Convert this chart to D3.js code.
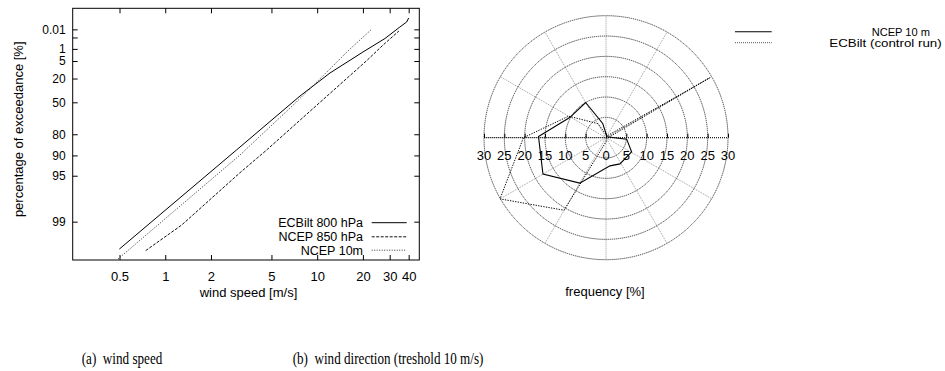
<!DOCTYPE html>
<html><head><meta charset="utf-8">
<script src="https://cdn.jsdelivr.net/npm/d3@7"></script>
<style>body{margin:0;background:#fff} svg{display:block}</style>
</head><body>
<svg id="c" width="945" height="371"></svg>
<script>
// ---------- (a) wind speed: exceedance on Weibull paper ----------
const speedTicks = [0.5, 1, 2, 5, 10, 20, 30, 40];
const exceedTicks = [0.01, 0.1, 1, 5, 20, 50, 80, 90, 95, 99];
const exceedLabels = ["0.01", "", "1", "5", "20", "50", "80", "90", "95", "99"];
const ecbiltSpeed  = [0.499, 2.945, 7.71, 12.14, 20.01, 27.93, 35.0, 38.8, 40.0];
const ecbiltExceed = [99.62, 88.0, 42.04, 14.10, 1.617, 0.1286, 0.0045, 0.000645, 0.000105];
const ncep850Speed  = [0.744, 1.284, 3.105, 4.65, 21.4, 26.7, 34.5];
const ncep850Exceed = [99.64, 99.11, 94.45, 88.0, 4.48, 0.609, 0.0168];
const ncep10Speed  = [0.491, 3.105, 6.96, 10.17, 15.94, 22.8];
const ncep10Exceed = [99.73, 89.85, 53.3, 22.3, 1.39, 0.00984];
const speedSeries = ["ECBilt 800 hPa", "NCEP 850 hPa", "NCEP 10m"];

// ---------- (b) wind direction ----------
const freqTicks = [-30, -25, -20, -15, -10, -5, 0, 5, 10, 15, 20, 25, 30];
const ncepDir  = [330, 347, 0, 45, 94, 119, 152, 172, 210, 240, 271, 299];
const ncepFreq = [10.0, 3.6, 1.0, 0.3, 5.1, 7.2, 7.3, 7.0, 12.9, 17.9, 16.6, 10.2];
const ecbiltDir  = [0, 30, 60, 90, 120, 150, 180, 210, 240, 270, 300, 330];
const ecbiltFreq = [0.8, 0.5, 29.5, 0.5, 0.3, 0.3, 1.0, 20.6, 30.1, 20.3, 10.6, 4.0];
const dirSeries = ["NCEP 10 m", "ECBilt (control run)"];

const svg = d3.select("#c");
const SANS = "'Liberation Sans', Arial, Helvetica, sans-serif";
const SERIF = "'Liberation Serif', 'Times New Roman', serif";

// ===== Panel (a) =====
const L = {x0: 72.7, x1: 419.3, y0: 8.3, y1: 260};
const wb = p => Math.log(-Math.log(p / 100));
const x = d3.scaleLog().domain([0.246, 47]).range([L.x0, L.x1]);
const yw = d3.scaleLinear().domain([-5.959, 2.967]).range([L.y1, L.y0]);
const y = p => yw(wb(p));

const ga = svg.append("g").attr("font-family", SANS);

const styleAxis = (g, fs) => {
  g.select(".domain").remove();
  g.selectAll(".tick line").attr("stroke", "#000").attr("stroke-width", 1);
  g.selectAll(".tick text").attr("font-size", fs).attr("fill", "#000").attr("font-family", SANS);
};

ga.append("g").attr("transform", `translate(0,${L.y1})`)
  .call(d3.axisBottom(x).tickValues(speedTicks).tickFormat(d3.format("")).tickSize(-5).tickPadding(12))
  .call(styleAxis, 13);
ga.append("g").attr("transform", `translate(0,${L.y0})`)
  .call(d3.axisTop(x).tickValues(speedTicks).tickFormat("").tickSize(-5))
  .call(styleAxis, 13);
ga.append("g").attr("transform", `translate(${L.x0},0)`)
  .call(d3.axisLeft(yw).tickValues(exceedTicks.map(wb)).tickFormat((d, i) => exceedLabels[i]).tickSize(-5).tickPadding(7))
  .call(styleAxis, 12);
ga.append("g").attr("transform", `translate(${L.x1},0)`)
  .call(d3.axisRight(yw).tickValues(exceedTicks.map(wb)).tickFormat("").tickSize(-5))
  .call(styleAxis, 12);

ga.append("rect").attr("x", L.x0).attr("y", L.y0).attr("width", L.x1 - L.x0).attr("height", L.y1 - L.y0)
  .attr("fill", "none").attr("stroke", "#000").attr("stroke-width", 1);

const speedData = [
  {name: speedSeries[0], v: ecbiltSpeed, p: ecbiltExceed, dash: null, color: "#000"},
  {name: speedSeries[1], v: ncep850Speed, p: ncep850Exceed, dash: "3,1.5", color: "#111"},
  {name: speedSeries[2], v: ncep10Speed, p: ncep10Exceed, dash: "1,1.5", color: "#333"}
];
const line = d3.line().x(d => x(d[0])).y(d => y(d[1]));
speedData.forEach(s => {
  ga.append("path").datum(d3.zip(s.v, s.p)).attr("d", line)
    .attr("fill", "none").attr("stroke", s.color).attr("stroke-width", 1)
    .attr("stroke-dasharray", s.dash);
});
const legRows = [222.7, 236.8, 250.2];
speedData.forEach((s, i) => {
  ga.append("text").attr("x", 363).attr("y", legRows[i] + 4.4).attr("text-anchor", "end")
    .attr("font-size", 12.5).text(s.name);
  ga.append("line").attr("x1", 371.7).attr("x2", 406.7).attr("y1", legRows[i]).attr("y2", legRows[i])
    .attr("stroke", s.color).attr("stroke-width", 1).attr("stroke-dasharray", s.dash);
});
ga.append("text").attr("x", 248.5).attr("y", 297).attr("text-anchor", "middle").attr("font-size", 13)
  .text("wind speed [m/s]");
ga.append("text").attr("transform", "translate(22.5,129.3) rotate(-90)").attr("text-anchor", "middle")
  .attr("font-size", 13).text("percentage of exceedance [%]");

// ===== Panel (b) =====
const C = {cx: 606, cy: 137.7};
const r = d3.scaleLinear().domain([0, 30]).range([0, 122]);
const gb = svg.append("g").attr("font-family", SANS).attr("transform", `translate(${C.cx},${C.cy})`);

d3.range(0, 360, 30).forEach(a => {
  const t = a * Math.PI / 180;
  gb.append("line").attr("x1", 0).attr("y1", 0)
    .attr("x2", r(30) * Math.sin(t)).attr("y2", -r(30) * Math.cos(t))
    .attr("stroke", "#9a9a9a").attr("stroke-width", 1).attr("stroke-dasharray", "1,1");
});
[5, 10, 15, 20, 25, 30].forEach(v => {
  gb.append("circle").attr("r", r(v)).attr("fill", "none").attr("stroke", "#3a3a3a")
    .attr("stroke-width", 1).attr("stroke-dasharray", "1.2,0.8");
});
const xf = d3.scaleLinear().domain([-30, 30]).range([-r(30), r(30)]);
gb.append("line").attr("x1", xf(-30)).attr("x2", xf(30)).attr("y1", 0).attr("y2", 0)
  .attr("stroke", "#000").attr("stroke-width", 1).attr("stroke-dasharray", "1,1");
const ax = gb.append("g")
  .call(d3.axisTop(xf).tickValues(freqTicks).tickFormat("").tickSize(4));
ax.select(".domain").remove();
ax.selectAll(".tick line").attr("stroke", "#000");
gb.selectAll("text.fl").data(freqTicks).join("text").attr("class", "fl")
  .attr("x", d => xf(d)).attr("y", 22.5).attr("text-anchor", "middle").attr("font-size", 13)
  .text(d => Math.abs(d));

const radial = d3.lineRadial().angle(d => d[0] * Math.PI / 180).radius(d => r(d[1])).curve(d3.curveLinearClosed);
gb.append("path").datum(d3.zip(ecbiltDir, ecbiltFreq)).attr("d", radial)
  .attr("fill", "none").attr("stroke", "#000").attr("stroke-width", 1).attr("stroke-dasharray", "1.3,1.3");
gb.append("path").datum(d3.zip(ncepDir, ncepFreq)).attr("d", radial)
  .attr("fill", "none").attr("stroke", "#000").attr("stroke-width", 1.1);

svg.append("text").attr("x", 605).attr("y", 296).attr("text-anchor", "middle")
  .attr("font-family", SANS).attr("font-size", 13).text("frequency [%]");

// right legend
const rl = svg.append("g").attr("font-family", SANS);
rl.append("line").attr("x1", 735).attr("x2", 771.7).attr("y1", 31.7).attr("y2", 31.7)
  .attr("stroke", "#000").attr("stroke-width", 1.1);
rl.append("line").attr("x1", 735).attr("x2", 771.7).attr("y1", 42.7).attr("y2", 42.7)
  .attr("stroke", "#555").attr("stroke-width", 1).attr("stroke-dasharray", "1,1");
rl.append("text").attr("x", 871.7).attr("y", 35.6).attr("font-size", 11)
  .attr("textLength", 58.3).attr("lengthAdjust", "spacingAndGlyphs").text(dirSeries[0]);
rl.append("text").attr("x", 829.3).attr("y", 46.8).attr("font-size", 11)
  .attr("textLength", 112.4).attr("lengthAdjust", "spacingAndGlyphs").text(dirSeries[1]);

// captions
svg.append("text").attr("x", 81.7).attr("y", 364).attr("font-family", SERIF).attr("font-size", 17)
  .attr("textLength", 80.6).attr("lengthAdjust", "spacingAndGlyphs").text("(a)\u2002wind speed");
svg.append("text").attr("x", 292.7).attr("y", 364).attr("font-family", SERIF).attr("font-size", 17)
  .attr("textLength", 190.7).attr("lengthAdjust", "spacingAndGlyphs").text("(b)\u2002wind direction (treshold 10 m/s)");
</script>
</body></html>
